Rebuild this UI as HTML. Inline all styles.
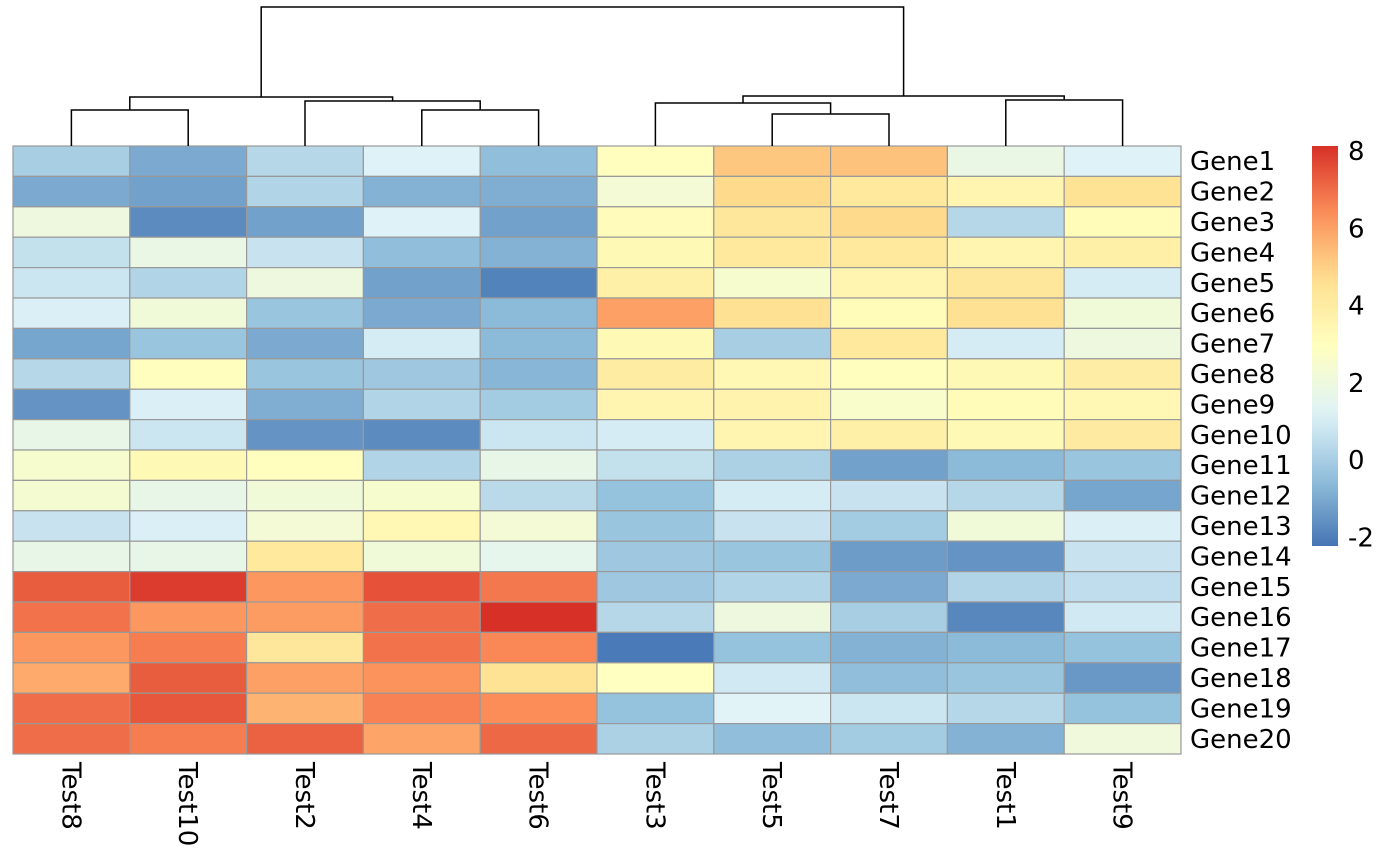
<!DOCTYPE html>
<html><head><meta charset="utf-8">
<style>
html,body{margin:0;padding:0;background:#fff;}
svg{display:block;font-family:"DejaVu Sans","Liberation Sans",sans-serif;}
</style></head>
<body>
<svg id="chart" width="1400" height="866" viewBox="0 0 1400 866"></svg>
<script>
const columns = ["Test8","Test10","Test2","Test4","Test6","Test3","Test5","Test7","Test1","Test9"];
const genes = ["Gene1","Gene2","Gene3","Gene4","Gene5","Gene6","Gene7","Gene8","Gene9","Gene10","Gene11","Gene12","Gene13","Gene14","Gene15","Gene16","Gene17","Gene18","Gene19","Gene20"];
const values = [
[0,-1,0.3,1.2,-0.5,3,5.2,5.3,1.8,1.2],
[-1,-1.2,0.2,-0.8,-0.9,2.3,4.8,4.2,3.5,4.5],
[2,-1.7,-1.2,1.2,-1.2,3.1,4.3,4.8,0.3,3.2],
[0.6,1.8,0.7,-0.5,-0.8,3.3,4.2,4.2,3.5,3.8],
[0.8,0.2,2.0,-1.2,-1.9,3.8,2.5,3.5,4.3,1.0],
[1.1,2.2,-0.3,-1.0,-0.6,6.0,4.6,3.2,4.6,2.2],
[-1.1,-0.3,-1.0,1.0,-0.6,3.3,0,4.2,1.0,2.0],
[0.3,3.0,-0.3,-0.2,-0.7,4.0,3.4,3.0,3.3,3.9],
[-1.5,1.1,-0.9,0.2,-0.1,3.5,3.6,2.6,3.2,3.4],
[1.7,0.8,-1.5,-1.7,0.8,1.0,3.5,3.8,3.3,4.1],
[2.5,3.3,3.0,0.2,1.7,0.6,0.1,-1.2,-0.6,-0.3],
[2.4,1.7,2.2,2.5,0.4,-0.4,1.0,0.7,0.3,-1.1],
[0.7,1.1,2.3,3.4,2.3,-0.3,0.7,-0.1,2.2,1.1],
[1.7,1.7,4.2,2.2,1.6,-0.2,-0.3,-1.3,-1.5,0.7],
[7.3,7.9,6.2,7.5,6.8,-0.2,0.2,-1.0,0.2,0.5],
[6.9,6.2,6.1,7.0,8.2,0.3,2.0,0.0,-1.8,0.9],
[6.2,6.7,4.3,6.9,6.5,-2.1,-0.4,-0.8,-0.6,-0.4],
[5.8,7.3,6.0,6.3,4.5,2.9,0.9,-0.5,-0.3,-1.4],
[7.0,7.4,5.6,6.6,6.4,-0.4,1.3,0.8,0.3,-0.4],
[7.0,6.7,7.2,5.9,7.1,0.1,-0.5,-0.1,-0.8,2.1]
];
const legendTicks = [8,6,4,2,0,-2];
const merges = [
[-1,-2,110],[-4,-5,110],[-3,1,101],[0,2,97],
[-7,-8,114],[-6,4,103],[-9,-10,100],[5,6,96],[3,7,7]
];
const vmin=-2.22, vmax=8.13;
const pal=["#4575B4","#91BFDB","#E0F3F8","#FFFFBF","#FEE090","#FC8D59","#D73027"];
function hex(h){return [1,3,5].map(i=>parseInt(h.substr(i,2),16));}
function color(v){
  let t=Math.max(0,Math.min(1,(v-vmin)/(vmax-vmin)))*(pal.length-1);
  let i=Math.min(pal.length-2,Math.floor(t)),f=t-i;
  let a=hex(pal[i]),b=hex(pal[i+1]);
  return "rgb("+a.map((x,k)=>Math.round(x+(b[k]-x)*f)).join(",")+")";
}
const X0=13,Y0=146,CW=116.8,CH=30.4;
const xs=i=>X0+CW*i, ys=j=>Y0+CH*j;
const svg=document.getElementById("chart");
const NS="http://www.w3.org/2000/svg";
function mk(tag,attrs,parent){const e=document.createElementNS(NS,tag);for(const k in attrs)e.setAttribute(k,attrs[k]);(parent||svg).appendChild(e);return e;}
const gCells=mk("g",{});


values.forEach((row,j)=>row.forEach((v,i)=>{
  const r=mk("rect",{x:xs(i),y:ys(j),width:CW,height:CH,fill:color(v),stroke:"#999999","stroke-width":1.2},gCells);
  
  
}));
genes.forEach((g,j)=>{
  const t=mk("text",{x:1190,y:ys(j)+CH/2+9,"font-size":26,fill:"#000"});
  t.textContent=g;
  
  
});
columns.forEach((c,i)=>{
  const cx=xs(i)+CW/2;
  const t=mk("text",{x:0,y:0,"font-size":26,fill:"#000",transform:"translate("+(cx-9)+",762) rotate(90)"});
  t.textContent=c;
  
  
});
const gD=mk("g",{stroke:"#000","stroke-width":1.5,fill:"none"});


const nodes=[];
function pos(k){return k<0?{x:xs(-k-1)+CW/2,y:146}:nodes[k];}
merges.forEach(m=>{
  const a=pos(m[0]),b=pos(m[1]),h=m[2];
  mk("path",{d:`M${a.x},${a.y}V${h}H${b.x}V${b.y}`},gD);
  nodes.push({x:(a.x+b.x)/2,y:h});
});
const defs=mk("defs",{});
const lg=mk("linearGradient",{id:"lg",x1:0,y1:1,x2:0,y2:0},defs);
for(let k=0;k<=20;k++){const v=vmin+(vmax-vmin)*k/20;mk("stop",{offset:k/20,"stop-color":color(v)},lg);}
const lr=mk("rect",{x:1312,y:146,width:26,height:400,fill:"url(#lg)"});


const ly=v=>146+(vmax-v)/(vmax-vmin)*400;
legendTicks.forEach(v=>{
  const t=mk("text",{x:1348,y:ly(v)+9,"font-size":26,fill:"#000"});
  t.textContent=String(v);
  
  
});
</script>
</body></html>
